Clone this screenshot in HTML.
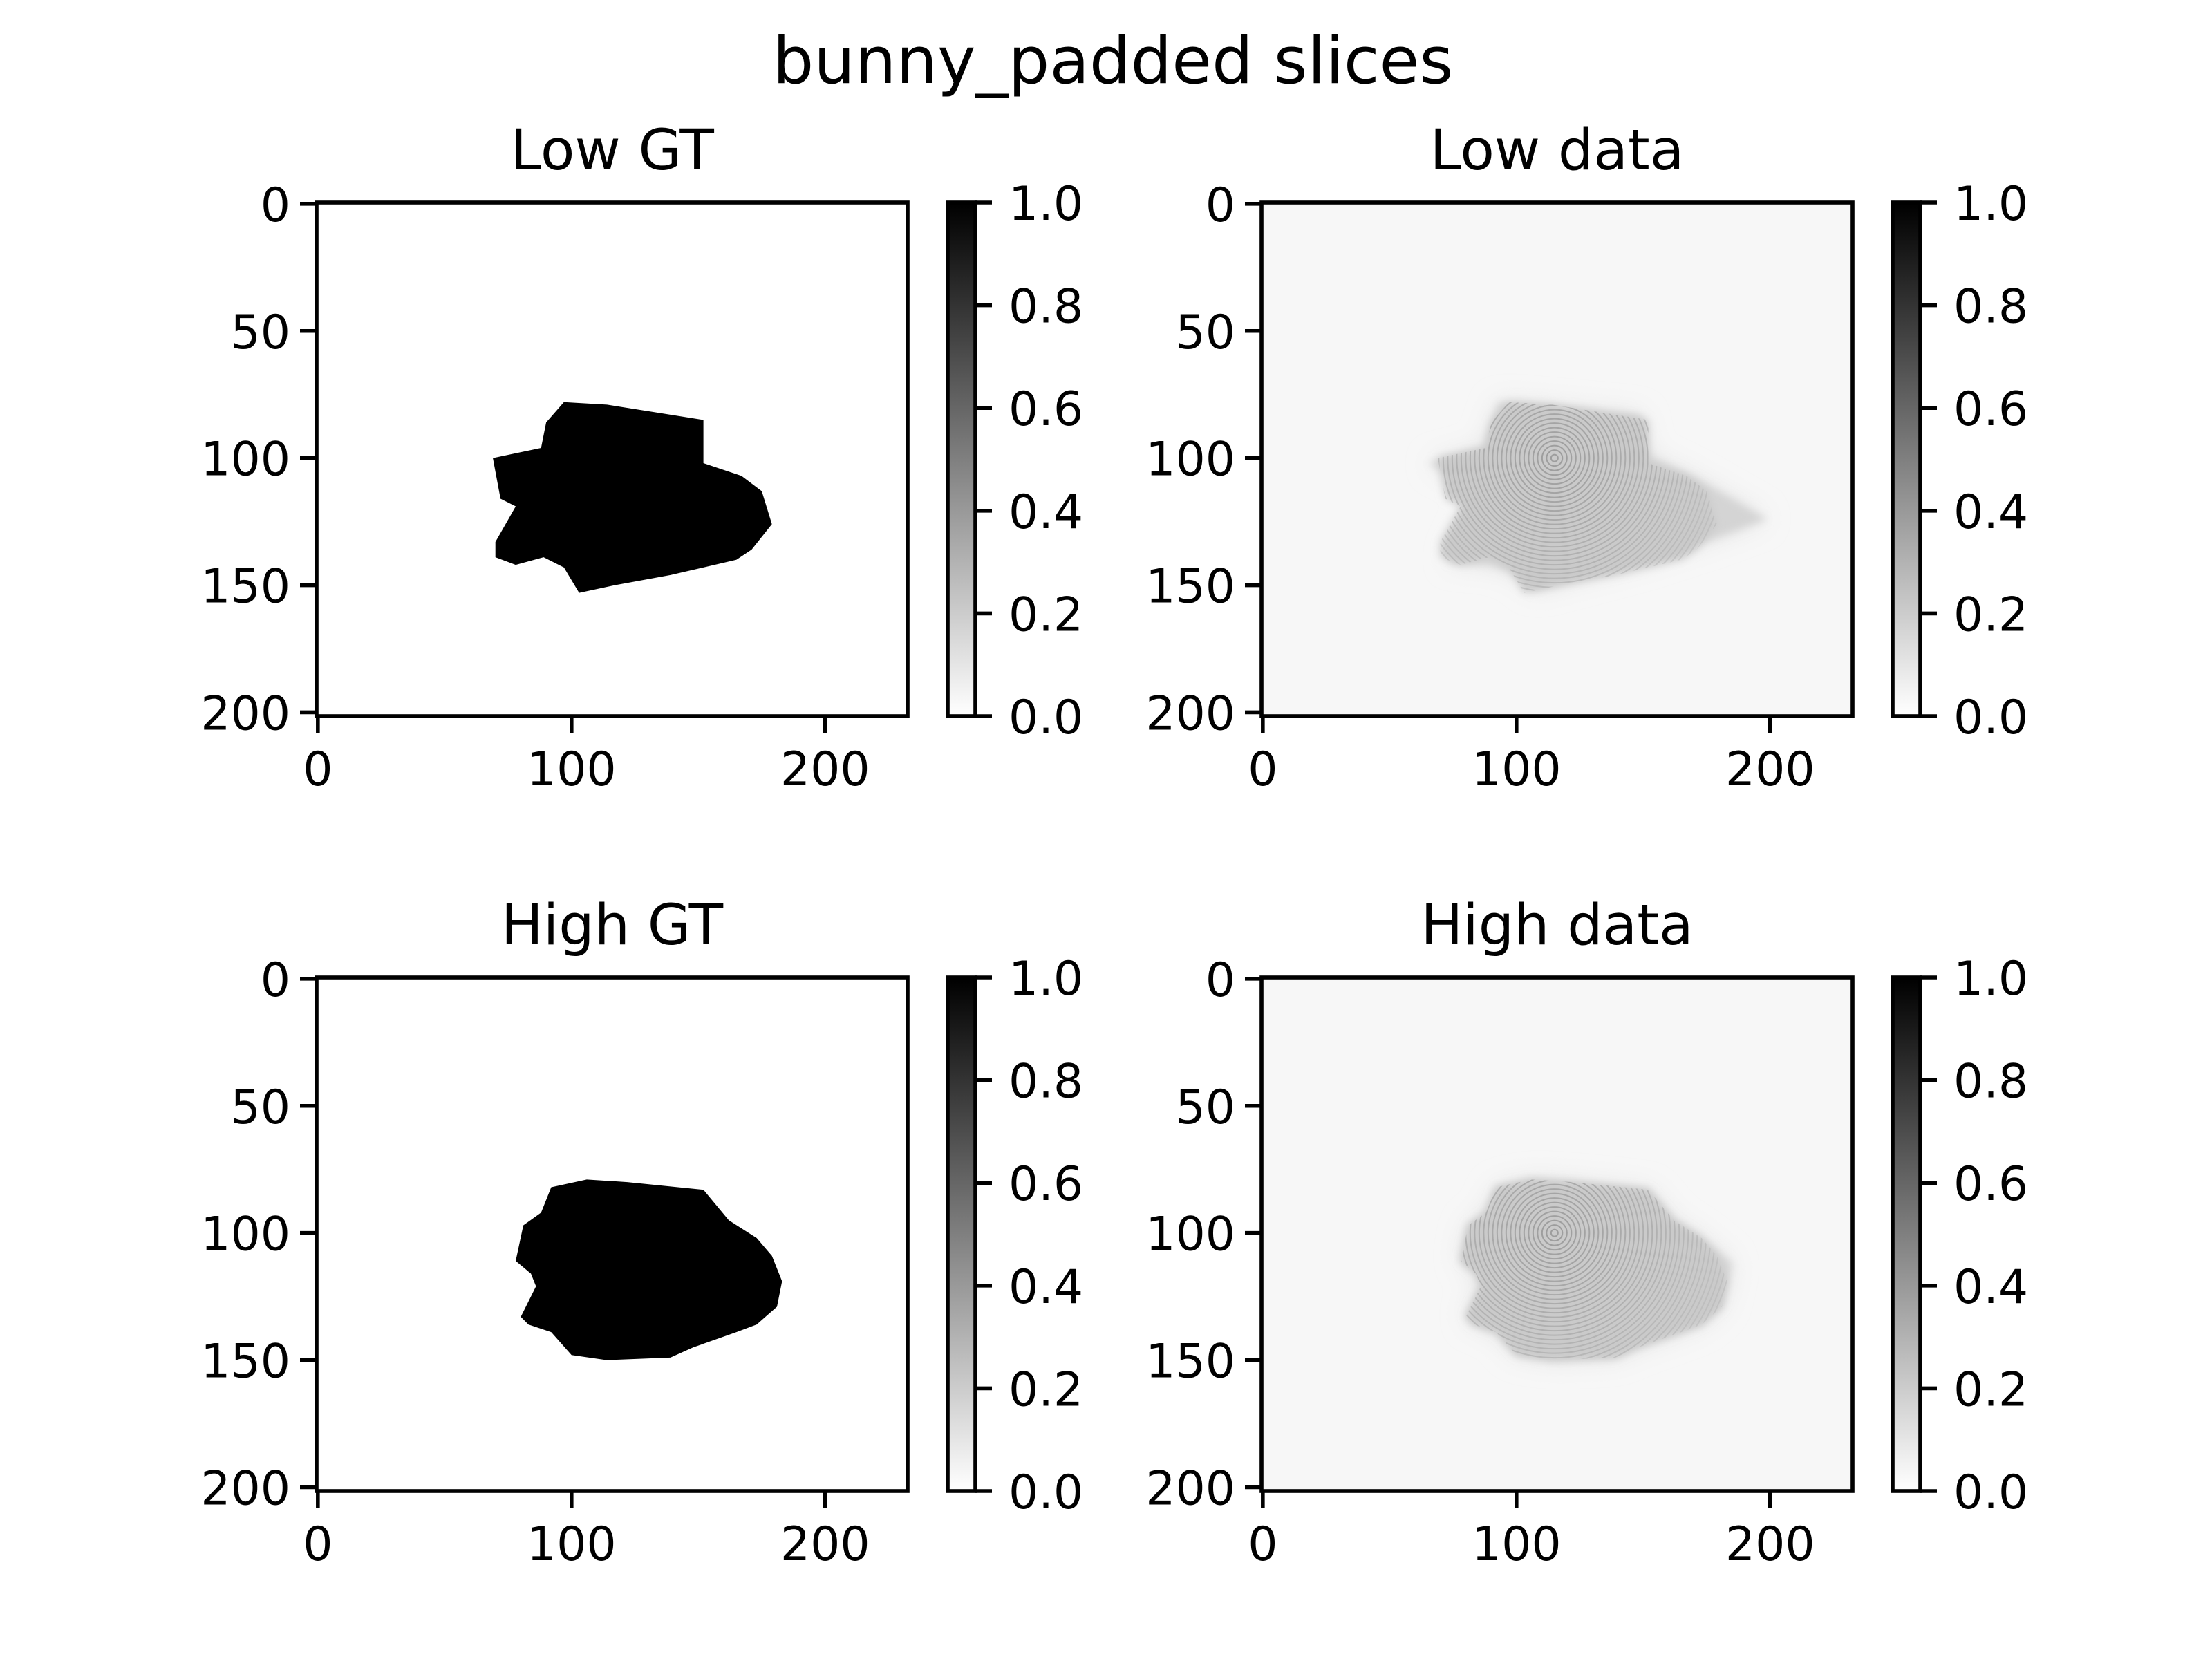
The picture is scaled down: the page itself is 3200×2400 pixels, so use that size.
<!DOCTYPE html>
<html><head><meta charset="utf-8"><style>
html,body{margin:0;padding:0;background:#fff}
svg{display:block}
text{font-family:"DejaVu Sans","Liberation Sans",sans-serif;fill:#000}
</style></head><body>
<svg id="fig" width="3200" height="2400" viewBox="0 0 3200 2400" xmlns="http://www.w3.org/2000/svg">
<defs>
<linearGradient id="cbgrad" x1="0" y1="1" x2="0" y2="0"><stop offset="0" stop-color="#fff"/><stop offset="1" stop-color="#000"/></linearGradient>
<filter id="blur" x="-30%" y="-30%" width="160%" height="160%"><feGaussianBlur stdDeviation="18"/></filter>
<filter id="blur2" x="-20%" y="-20%" width="140%" height="140%"><feGaussianBlur stdDeviation="6"/></filter>
</defs>
<text x="1610" y="120" font-size="94" text-anchor="middle">bunny_padded slices</text>
<g id="root"></g>
</svg>
<script>
const xTicks = [0, 100, 200];
const yTicks = [0, 50, 100, 150, 200];
const cbTicks = [0.0, 0.2, 0.4, 0.6, 0.8, 1.0];
const cbTickLabels = ["0.0", "0.2", "0.4", "0.6", "0.8", "1.0"];
const xDomain = [-0.5, 232.5];
const yDomain = [-0.5, 201.5];
const lowGTx = [90,97,114,152,152,167,175,179,171,165,139,117,103,97,89,78,70,70,78,72,69,88];
const lowGTy = [86,78,79,85,102,107,113,126,136,140,146,150,153,143,139,142,139,133,119,116,100,96];
const highGTx = [92,106,122,152,162,173,179,183,181,173,165,148,139,114,100,92,83,80,86,84,78,81,88];
const highGTy = [82,79,80,83,95,102,109,119,129,136,139,145,149,150,148,139,136,133,121,116,111,97,92];
const lowDatax = [93,149,152,169,199,177,149,107,101,90,73,81,93,87,65,87];
const lowDatay = [78,83,99,107,124,132,141,152,146,142,141,124,118,113,102,96];
const highDatax = [92,106,122,152,162,173,185,181,173,165,148,139,114,100,92,83,80,86,84,78,81,88];
const highDatay = [82,79,80,83,95,102,112,129,136,139,145,149,150,148,139,136,133,121,116,111,97,92];
const ringCenterLow = [115, 100];
const ringCenterHigh = [115, 100];

const NS = "http://www.w3.org/2000/svg";
const root = document.getElementById('root');
function mk(tag, attrs, parent){const e=document.createElementNS(NS,tag);for(const k in attrs)e.setAttribute(k,attrs[k]);(parent||root).appendChild(e);return e;}

const panels = [
 {name:'low-gt', title:'Low GT', L:458, T:293, xs:lowGTx, ys:lowGTy, type:'gt'},
 {name:'low-data', title:'Low data', L:1825, T:293, xs:lowDatax, ys:lowDatay, cx:lowGTx, cy:lowGTy, type:'data', rc:ringCenterLow},
 {name:'high-gt', title:'High GT', L:458, T:1414, xs:highGTx, ys:highGTy, type:'gt'},
 {name:'high-data', title:'High data', L:1825, T:1414, xs:highDatax, ys:highDatay, cx:highGTx, cy:highGTy, type:'data', rc:ringCenterHigh}
];
const W=855, H=743;
panels.forEach((p,pi)=>{
  const g = mk('g',{});
  
  
  const X = v => p.L + (v - xDomain[0])/(xDomain[1]-xDomain[0])*W;
  const Y = v => p.T + (v - yDomain[0])/(yDomain[1]-yDomain[0])*H;
  const clipId='clip'+pi;
  const cp = mk('clipPath',{id:clipId},g);
  mk('rect',{x:p.L,y:p.T,width:W,height:H},cp);
  const img = mk('g',{'clip-path':'url(#'+clipId+')'},g);
  
  
  const pts = p.xs.map((x,i)=>X(x)+','+Y(p.ys[i])).join(' ');
  if(p.type==='gt'){
    mk('rect',{x:p.L,y:p.T,width:W,height:H,fill:'#fff'},img);
    const poly = mk('polygon',{points:pts,fill:'#000'},img);
    
    
  } else {
    const cpts = p.cx.map((x,i)=>X(x)+','+Y(p.cy[i])).join(' ');
    mk('rect',{x:p.L,y:p.T,width:W,height:H,fill:'#f7f7f7'},img);
    const halo = mk('polygon',{points:pts,fill:'#e2e2e2',filter:'url(#blur)'},img);
    
    
    const arms = mk('polygon',{points:pts,fill:'#d4d4d4',filter:'url(#blur2)'},img);
    
    
    const poly = mk('polygon',{points:cpts,fill:'#cacaca',filter:'url(#blur2)'},img);
    
    
    const pc = mk('clipPath',{id:'pc'+pi},g);
    mk('polygon',{points:cpts},pc);
    const rings = mk('g',{'clip-path':'url(#pc'+pi+')'},img);
    
    
    const cx=X(p.rc[0]), cy=Y(p.rc[1]);
    for(let r=5;r<300;r+=6.5){
      mk('circle',{cx:cx,cy:cy,r:r,fill:'none',stroke:'#9c9c9c','stroke-width':2,'stroke-opacity':Math.max(0.25,1-r/320)},rings);
    }
  }
  mk('rect',{x:p.L,y:p.T,width:W,height:H,fill:'none',stroke:'#000','stroke-width':5.6},g);
  const t = mk('text',{x:p.L+W/2,y:p.T-48,'font-size':81,'text-anchor':'middle'},g);
  t.textContent=p.title;
  
  
  xTicks.forEach(v=>{
    mk('line',{x1:X(v),x2:X(v),y1:p.T+H,y2:p.T+H+24,stroke:'#000','stroke-width':5.6},g);
    const l=mk('text',{x:X(v),y:p.T+H+100,'font-size':68,'text-anchor':'middle'},g);
    l.textContent=v;
    
    
  });
  yTicks.forEach(v=>{
    mk('line',{x1:p.L-24,x2:p.L,y1:Y(v),y2:Y(v),stroke:'#000','stroke-width':5.6},g);
    const l=mk('text',{x:p.L-38,y:Y(v)+25,'font-size':68,'text-anchor':'end'},g);
    l.textContent=v;
    
    
  });
  const cbL = p.L + 913, cbW = 40;
  const cb = mk('g',{},g);
  
  
  mk('rect',{x:cbL,y:p.T,width:cbW,height:H,fill:'url(#cbgrad)',stroke:'#000','stroke-width':5.6},cb);
  const CY = v => p.T + H - v*H;
  cbTicks.forEach((v,i)=>{
    mk('line',{x1:cbL+cbW,x2:cbL+cbW+24,y1:CY(v),y2:CY(v),stroke:'#000','stroke-width':5.6},cb);
    const l=mk('text',{x:cbL+cbW+48,y:CY(v)+25,'font-size':68},cb);
    l.textContent=cbTickLabels[i];
    
    
  });
});
</script>
</body></html>
